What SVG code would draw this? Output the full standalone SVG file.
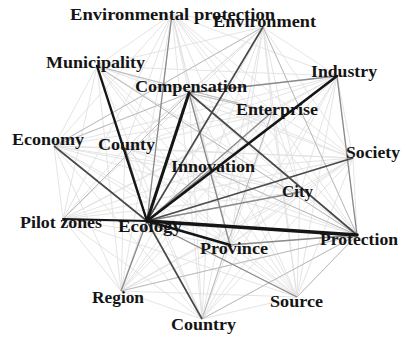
<svg xmlns="http://www.w3.org/2000/svg" width="401" height="337" viewBox="0 0 401 337">
  <style>
    .bg { fill: #ffffff; }
    .e0 { fill: none; stroke: #e1e1e1; stroke-width: 0.9; }
    .e1 { fill: none; stroke: #bcbcbc; stroke-width: 1; }
    .e2 { fill: none; stroke: #8a8a8a; stroke-width: 1.3; }
    .e3 { fill: none; stroke: #4a4a4a; stroke-width: 1.7; }
    .e4 { fill: none; stroke: #151515; stroke-linecap: round; }
    .lbl { font-family: "Liberation Serif", "Times New Roman", serif; font-weight: bold; font-size: 17px; fill: #141414; }
  </style>
  <rect class="bg" width="401" height="337"/>

  <g id="edges">
    <!-- weak co-occurrence links: every pair -->
    <path class="e0" d="M172 14L263 27M172 14L97 66M172 14L189 93M172 14L337 76M172 14L272 112M172 14L54 146M172 14L125 148M172 14L353 158M172 14L210 170M172 14L300 192M172 14L63 219M172 14L147 221M172 14L230 245M172 14L357 235M172 14L121 291M172 14L297 297M172 14L202 319
      M263 27L97 66M263 27L189 93M263 27L337 76M263 27L272 112M263 27L54 146M263 27L125 148M263 27L353 158M263 27L210 170M263 27L300 192M263 27L63 219M263 27L147 221M263 27L230 245M263 27L357 235M263 27L121 291M263 27L297 297M263 27L202 319
      M97 66L189 93M97 66L337 76M97 66L272 112M97 66L54 146M97 66L125 148M97 66L353 158M97 66L210 170M97 66L300 192M97 66L63 219M97 66L147 221M97 66L230 245M97 66L357 235M97 66L121 291M97 66L297 297M97 66L202 319
      M189 93L337 76M189 93L272 112M189 93L54 146M189 93L125 148M189 93L353 158M189 93L210 170M189 93L300 192M189 93L63 219M189 93L147 221M189 93L230 245M189 93L357 235M189 93L121 291M189 93L297 297M189 93L202 319
      M337 76L272 112M337 76L54 146M337 76L125 148M337 76L353 158M337 76L210 170M337 76L300 192M337 76L63 219M337 76L147 221M337 76L230 245M337 76L357 235M337 76L121 291M337 76L297 297M337 76L202 319
      M272 112L54 146M272 112L125 148M272 112L353 158M272 112L210 170M272 112L300 192M272 112L63 219M272 112L147 221M272 112L230 245M272 112L357 235M272 112L121 291M272 112L297 297M272 112L202 319
      M54 146L125 148M54 146L353 158M54 146L210 170M54 146L300 192M54 146L63 219M54 146L147 221M54 146L230 245M54 146L357 235M54 146L121 291M54 146L297 297M54 146L202 319
      M125 148L353 158M125 148L210 170M125 148L300 192M125 148L63 219M125 148L147 221M125 148L230 245M125 148L357 235M125 148L121 291M125 148L297 297M125 148L202 319
      M353 158L210 170M353 158L300 192M353 158L63 219M353 158L147 221M353 158L230 245M353 158L357 235M353 158L121 291M353 158L297 297M353 158L202 319
      M210 170L300 192M210 170L63 219M210 170L147 221M210 170L230 245M210 170L357 235M210 170L121 291M210 170L297 297M210 170L202 319
      M300 192L63 219M300 192L147 221M300 192L230 245M300 192L357 235M300 192L121 291M300 192L297 297M300 192L202 319
      M63 219L147 221M63 219L230 245M63 219L357 235M63 219L121 291M63 219L297 297M63 219L202 319
      M147 221L230 245M147 221L357 235M147 221L121 291M147 221L297 297M147 221L202 319
      M230 245L357 235M230 245L121 291M230 245L297 297M230 245L202 319
      M357 235L121 291M357 235L297 297M357 235L202 319
      M121 291L297 297M121 291L202 319
      M297 297L202 319"/>
    <!-- light-medium links -->
    <path class="e1" d="M263 27L54 146M263 27L357 235M97 66L357 235M97 66L272 112M121 291L357 235M202 319L357 235M297 297L357 235M189 93L272 112M63 219L189 93M54 146L189 93M202 319L272 112M210 170L357 235"/>
    <!-- medium links -->
    <path class="e2" d="M172 14L147 221M189 93L230 245M337 76L189 93M337 76L357 235M147 221L121 291M147 221L297 297M147 221L125 148M147 221L210 170M147 221L272 112M230 245L357 235M147 221L300 192"/>
    <!-- strong links -->
    <path class="e3" d="M189 93L357 235M147 221L263 27M147 221L54 146M147 221L353 158M147 221L202 319"/>
    <!-- strongest links around Ecology -->
    <path class="e4" stroke-width="3.6" d="M147 221L357 235"/>
    <path class="e4" stroke-width="3" d="M147 221L189 93"/>
    <path class="e4" stroke-width="2.6" d="M147 221L337 76"/>
    <path class="e4" stroke-width="2.4" d="M147 221L97 66M147 221L230 245"/>
    <path class="e4" stroke-width="2" d="M147 221L63 219"/>
  </g>

  <g id="node-environmental-protection"><text class="lbl" x="70" y="20" textLength="205" lengthAdjust="spacingAndGlyphs">Environmental protection</text></g>
  <g id="node-environment"><text class="lbl" x="213" y="27" textLength="103" lengthAdjust="spacingAndGlyphs">Environment</text></g>
  <g id="node-municipality"><text class="lbl" x="46" y="68" textLength="99" lengthAdjust="spacingAndGlyphs">Municipality</text></g>
  <g id="node-compensation"><text class="lbl" x="135" y="92" textLength="112" lengthAdjust="spacingAndGlyphs">Compensation</text></g>
  <g id="node-industry"><text class="lbl" x="311" y="77" textLength="66" lengthAdjust="spacingAndGlyphs">Industry</text></g>
  <g id="node-enterprise"><text class="lbl" x="236" y="115" textLength="82" lengthAdjust="spacingAndGlyphs">Enterprise</text></g>
  <g id="node-economy"><text class="lbl" x="12" y="145" textLength="72" lengthAdjust="spacingAndGlyphs">Economy</text></g>
  <g id="node-county"><text class="lbl" x="98" y="150" textLength="57" lengthAdjust="spacingAndGlyphs">County</text></g>
  <g id="node-society"><text class="lbl" x="346" y="158" textLength="54" lengthAdjust="spacingAndGlyphs">Society</text></g>
  <g id="node-innovation"><text class="lbl" x="171" y="172" textLength="84" lengthAdjust="spacingAndGlyphs">Innovation</text></g>
  <g id="node-city"><text class="lbl" x="282" y="197" textLength="31" lengthAdjust="spacingAndGlyphs">City</text></g>
  <g id="node-pilot-zones"><text class="lbl" x="20" y="228" textLength="82" lengthAdjust="spacingAndGlyphs">Pilot zones</text></g>
  <g id="node-ecology"><text class="lbl" x="118" y="232" textLength="64" lengthAdjust="spacingAndGlyphs">Ecology</text></g>
  <g id="node-province"><text class="lbl" x="200" y="254" textLength="68" lengthAdjust="spacingAndGlyphs">Province</text></g>
  <g id="node-protection"><text class="lbl" x="320" y="245" textLength="78" lengthAdjust="spacingAndGlyphs">Protection</text></g>
  <g id="node-region"><text class="lbl" x="92" y="303" textLength="52" lengthAdjust="spacingAndGlyphs">Region</text></g>
  <g id="node-source"><text class="lbl" x="270" y="307" textLength="53" lengthAdjust="spacingAndGlyphs">Source</text></g>
  <g id="node-country"><text class="lbl" x="171" y="330" textLength="65" lengthAdjust="spacingAndGlyphs">Country</text></g>
</svg>
